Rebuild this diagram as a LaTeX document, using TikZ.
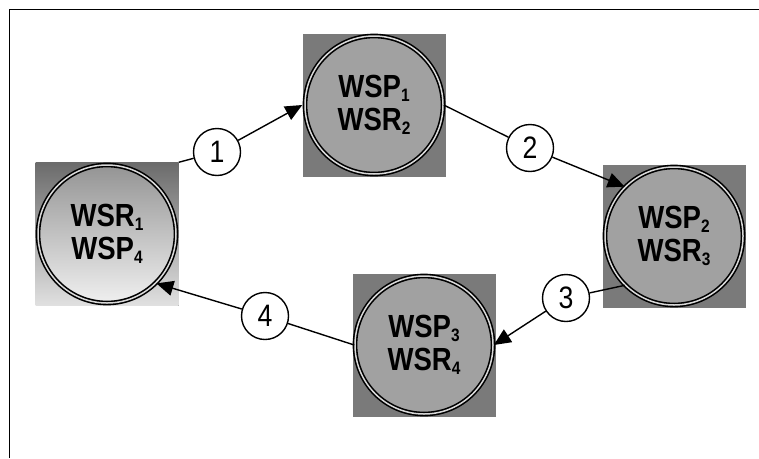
\documentclass[tikz,border=0pt]{standalone}
\usepackage{fontspec}
\newfontfamily\wsfont[FakeStretch=0.86]{Liberation Sans}
\usetikzlibrary{arrows.meta}

% small lowered index after WSP / WSR
\newcommand{\idx}[1]{\raisebox{-4pt}{\fontsize{18}{18}\selectfont #1}}

\begin{document}
\begin{tikzpicture}[x=1pt, y=-1pt,
    tile/.style={fill=black!52, minimum size=143pt, inner sep=0pt},
    peer/.style={circle, draw, line width=1.6pt, double=black!15, double distance=1.5pt,
        fill=black!37, minimum size=138pt, inner sep=0pt, align=center,
        font=\wsfont\bfseries\fontsize{32}{33}\selectfont},
    tag/.style={circle, draw, line width=1.4pt, fill=white, minimum size=47pt, inner sep=0pt,
        font=\wsfont\fontsize{31}{31}\selectfont},
    link/.style={line width=1.4pt},
    arr/.style={link, -{Triangle[length=17pt,width=15pt]}}]
    \useasboundingbox (0,0) rectangle (759,458);
    \draw[line width=1pt] (9,458) -- (9,9) -- (759,9);

    % the four peers
    \node[tile] (topsq) at (374,105) {};
    \node[peer] (top) at (374,105) {WSP\idx{1}\\WSR\idx{2}};
    \node[tile] (rightsq) at (674,236) {};
    \node[peer] (right) at (674,236) {WSP\idx{2}\\WSR\idx{3}};
    \node[tile] (bottomsq) at (424,345) {};
    \node[peer] (bottom) at (424,345) {WSP\idx{3}\\WSR\idx{4}};
    \node[tile, top color=black!58, bottom color=black!12] (leftsq) at (107,234) {};
    \node[peer, top color=black!42, bottom color=black!6] (left) at (107,234) {WSR\idx{1}\\WSP\idx{4}};

    % numbered steps
    \node[tag] (c1) at (217,152) {1};
    \node[tag] (c2) at (530,148) {2};
    \node[tag] (c3) at (566,298) {3};
    \node[tag] (c4) at (265,316) {4};

    \draw[link] (leftsq.north east) -- (c1);
    \draw[arr] (c1) -- (topsq.west);
    \draw[link] (top.east) -- (c2);
    \draw[arr] (c2) -- (right.135);
    \draw[link] (right.225) -- (c3);
    \draw[arr] (c3) -- (bottom.east);
    \draw[link] (bottom.west) -- (c4);
    \draw[arr] (c4) -- (left.-45);
\end{tikzpicture}
\end{document}
